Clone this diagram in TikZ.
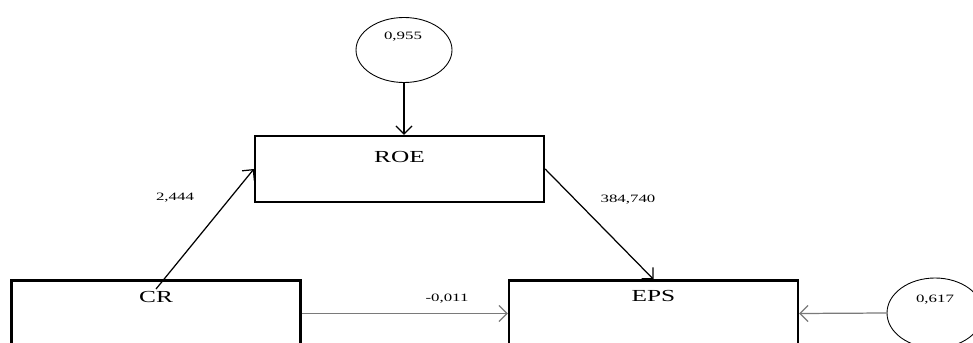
\documentclass[tikz,border=0pt]{standalone}
\usepackage{fontspec}
\setmainfont{Liberation Serif}
\usepackage{xcolor}
\usepackage{tikz}
\usetikzlibrary{positioning,arrows.meta,shapes.geometric}
\definecolor{figGray}{HTML}{7A7A7A}

\begin{document}
\begin{tikzpicture}[
  every node/.style={font=\footnotesize},
  varbox/.style={draw=black, line width=1.3pt, minimum width=5.78cm,
             minimum height=1.32cm, inner sep=0pt},
  varname/.style={font=\fontsize{9.6}{11}\selectfont, inner sep=1pt, xscale=1.5},
  errterm/.style={draw=black, line width=0.5pt, ellipse,
             minimum width=1.92cm, minimum height=1.3cm, inner sep=0pt},
  coef/.style={font=\fontsize{6.4}{8}\selectfont, inner sep=1pt, xscale=1.5},
  arr/.style={-{Straight Barb[length=1.6mm, width=3.2mm]}, line width=0.7pt},
  garr/.style={arr, figGray},
]
\useasboundingbox (0,0) rectangle (19.46,6.84);

% Boxes
\node[varbox] (roe) at (7.99, 3.46) {};
\node[varbox] (cr) at (3.12, 0.57) {};
\node[varbox] (eps) at (13.07, 0.57) {};
\node[varname, below=8pt of roe.north] (roelbl) {ROE};
\node[varname, below=5.5pt of cr.north] (crlbl) {CR};
\node[varname, below=5pt of eps.north] (epslbl) {EPS};

% Error terms
\node[errterm] (e1) at (8.08, 5.84) {};
\node[errterm, minimum height=1.4cm] (e2) at (18.70, 0.58) {};
\node[coef] (e1lbl) at (8.06, 6.10) {0,955};
\node[coef] (e2lbl) at (18.70, 0.84) {0,617};

% Arrows
\draw[arr] (e1.south) -- (e1.south |- roe.north);
\draw[arr] (crlbl.north) -- (roe.west);
\draw[arr] (roe.east) -- (eps.north);
\draw[garr] (cr.east) -- (eps.west);
\draw[garr] (e2.west) -- (eps.east);

% Coefficients
\node[coef] (b1) at (3.50, 2.88) {2,444};
\node[coef] (b2) at (12.56, 2.84) {384,740};
\node[coef] (b3) at (8.94, 0.86) {-0,011};

\end{tikzpicture}
\end{document}
